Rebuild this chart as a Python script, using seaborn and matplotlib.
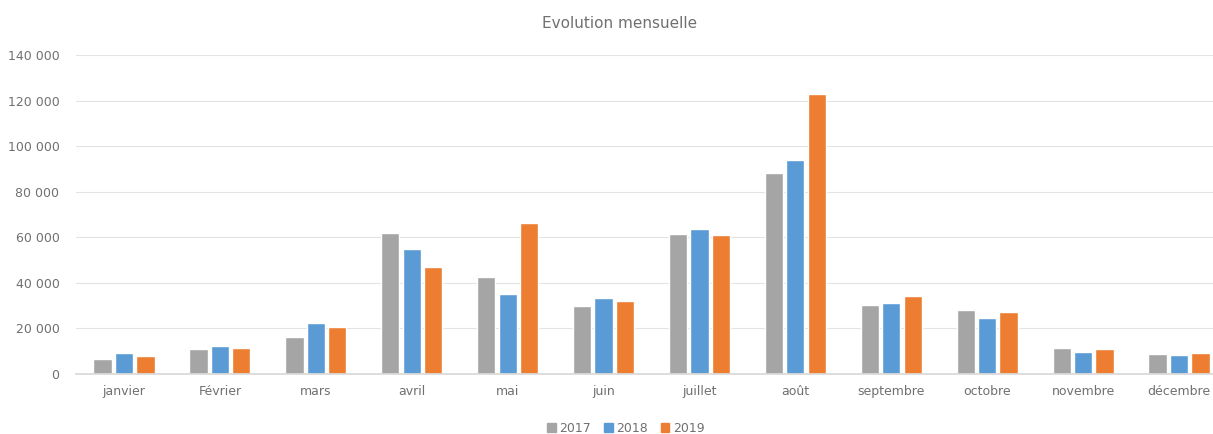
import matplotlib
matplotlib.use("Agg")
import matplotlib.pyplot as plt
from matplotlib.ticker import FuncFormatter, MultipleLocator
import seaborn as sns
import pandas as pd

mois = ["janvier", "Février", "mars", "avril", "mai", "juin", "juillet",
        "août", "septembre", "octobre", "novembre", "décembre"]
annees = ["2017", "2018", "2019"]
v2017 = [6400, 10800, 16200, 61800, 42600, 29900, 61500, 88200, 30200, 28000, 11200, 8700]
v2018 = [8900, 12200, 22400, 54700, 35200, 33400, 63700, 94000, 30900, 24300, 9500, 8100]
v2019 = [7700, 11100, 20600, 46800, 66200, 31800, 60900, 123100, 34300, 27200, 10700, 9300]
couleurs = ["#A5A5A5", "#5B9BD5", "#ED7D31"]

df = pd.DataFrame({
    "mois": mois * 3,
    "annee": [a for a in annees for _ in mois],
    "valeur": v2017 + v2018 + v2019,
})

sns.set_theme(style="white")
plt.rcParams["font.family"] = ["DejaVu Sans"]
txt = "#707070"

fig = plt.figure(figsize=(12.13, 4.34), dpi=100)
ax = fig.add_axes([0.0627, 0.139, 0.9488, 0.734])

sns.barplot(data=df, x="mois", y="valeur", hue="annee", order=mois,
            hue_order=annees, palette=couleurs, width=0.67, gap=0.15,
            saturation=1, errorbar=None, ax=ax, legend=False)

ax.set_ylim(0, 140000)
ax.yaxis.set_major_locator(MultipleLocator(20000))
ax.yaxis.set_major_formatter(FuncFormatter(lambda v, p: f"{int(v):,}".replace(",", " ")))
ax.grid(axis="y", color="#E3E3E3", linewidth=0.8)
ax.set_axisbelow(True)
for s in ["top", "right", "left"]:
    ax.spines[s].set_visible(False)
ax.spines["bottom"].set_color("#D9D9D9")
ax.tick_params(axis="both", length=0, labelsize=9, labelcolor=txt)
ax.tick_params(axis="x", pad=8)
ax.tick_params(axis="y", pad=12)
ax.set_xlabel("")
ax.set_ylabel("")

fig.text(0.511, 0.945, "Evolution mensuelle", ha="center", va="center",
         fontsize=11, color=txt)

handles = [plt.Rectangle((0, 0), 1, 1, color=c) for c in couleurs]
fig.legend(handles, annees, loc="center", bbox_to_anchor=(0.516, 0.013),
           ncol=3, frameon=False, fontsize=9, labelcolor=txt,
           handlelength=0.7, handleheight=0.7, handletextpad=0.3,
           columnspacing=1.0)

fig.savefig("out.png", dpi=100)
